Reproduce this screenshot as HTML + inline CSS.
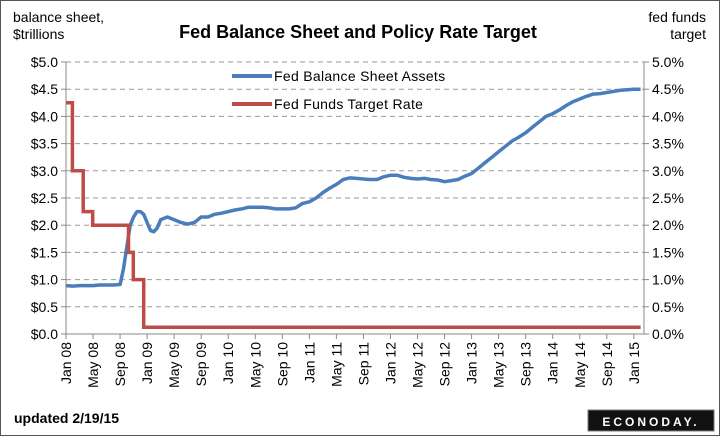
<!DOCTYPE html>
<html><head><meta charset="utf-8"><style>
body{margin:0;background:#fff;}
svg text{font-family:"Liberation Sans",Arial,sans-serif;}
</style></head><body>
<svg width="720" height="436" viewBox="0 0 720 436">
<rect x="0.5" y="0.5" width="719" height="435" fill="#fff" stroke="#555" stroke-width="1"/>
<text x="13" y="22" font-size="14">balance sheet,</text>
<text x="13" y="39" font-size="14">$trillions</text>
<text x="706" y="22" font-size="14" text-anchor="end">fed funds</text>
<text x="706" y="39" font-size="14" text-anchor="end">target</text>
<text x="358" y="38" font-size="18" font-weight="bold" text-anchor="middle">Fed Balance Sheet and Policy Rate Target</text>
<g id="grid"></g>
<g id="axes"></g>
<g id="series"></g>
<g>
<line x1="232" y1="76" x2="272" y2="76" stroke="#4a7ebb" stroke-width="4"/>
<text x="274" y="81" font-size="14" letter-spacing="0.3">Fed Balance Sheet Assets</text>
<line x1="232" y1="104" x2="272" y2="104" stroke="#be4b48" stroke-width="4"/>
<text x="274" y="109" font-size="14" letter-spacing="0.3">Fed Funds Target Rate</text>
</g>
<text x="14" y="423" font-size="14" font-weight="bold">updated 2/19/15</text>
<g>
<rect x="588" y="410" width="126" height="21" fill="#111" stroke="#777"/>
<text x="651" y="426" font-size="12" font-weight="bold" fill="#fff" text-anchor="middle" letter-spacing="3">ECONODAY.</text>
</g>
</svg>
<script>
const xLabels=["Jan 08","May 08","Sep 08","Jan 09","May 09","Sep 09","Jan 10","May 10","Sep 10","Jan 11","May 11","Sep 11","Jan 12","May 12","Sep 12","Jan 13","May 13","Sep 13","Jan 14","May 14","Sep 14","Jan 15"];
const leftTicks=["$0.0","$0.5","$1.0","$1.5","$2.0","$2.5","$3.0","$3.5","$4.0","$4.5","$5.0"];
const rightTicks=["0.0%","0.5%","1.0%","1.5%","2.0%","2.5%","3.0%","3.5%","4.0%","4.5%","5.0%"];
const assetMonths=[0,1,2,3,4,5,6,7,8,8.5,9,9.5,10,10.5,11,11.5,12,12.5,13,13.5,14,15,16,17,18,19,20,21,22,23,24,25,26,27,28,29,30,31,32,33,34,35,36,37,38,39,40,41,42,43,44,45,46,47,48,49,50,51,52,53,54,55,56,57,58,59,60,61,62,63,64,65,66,67,68,69,70,71,72,73,74,75,76,77,78,79,80,81,82,83,84,85];
const assetValues=[0.89,0.88,0.89,0.89,0.89,0.9,0.9,0.9,0.91,1.2,1.6,2.0,2.15,2.25,2.25,2.2,2.05,1.9,1.88,1.95,2.1,2.15,2.1,2.05,2.02,2.05,2.15,2.15,2.2,2.22,2.25,2.28,2.3,2.33,2.33,2.33,2.32,2.3,2.3,2.3,2.32,2.4,2.43,2.5,2.6,2.68,2.75,2.84,2.87,2.86,2.85,2.84,2.84,2.89,2.92,2.92,2.88,2.86,2.85,2.86,2.84,2.83,2.8,2.82,2.84,2.9,2.95,3.05,3.15,3.25,3.35,3.45,3.55,3.62,3.7,3.8,3.9,4.0,4.05,4.12,4.2,4.27,4.32,4.37,4.41,4.42,4.44,4.46,4.48,4.49,4.5,4.5];
const rateMonths=[0,0.95,2.55,3.95,9.25,9.95,11.5,85];
const rateValues=[4.25,3.0,2.25,2.0,1.5,1.0,0.125,0.125];
const X0=66,X1=644,PX=6.76,Y0=334,Y1=62;
const x=m=>X0+m*PX;
const yL=v=>Y0-(v/5)*(Y0-Y1);
const yR=v=>Y0-(v/5)*(Y0-Y1);
const NS="http://www.w3.org/2000/svg";
function mk(tag,attrs,parent,txt){const e=document.createElementNS(NS,tag);for(const k in attrs)e.setAttribute(k,attrs[k]);if(txt!==undefined)e.textContent=txt;parent.appendChild(e);return e;}
const grid=document.getElementById('grid'),axes=document.getElementById('axes'),series=document.getElementById('series');
leftTicks.forEach((t,i)=>{const yy=yL(i*0.5);
 if(i>0){const g=mk('line',{x1:X0,x2:X1,y1:yy,y2:yy,stroke:'#999','stroke-dasharray':'5,4','stroke-width':1},grid);
 
 }
 const tl=mk('line',{x1:X0-5,x2:X0,y1:yy,y2:yy,stroke:'#888'},axes);
 
 
 const tr=mk('line',{x1:X1,x2:X1+5,y1:yy,y2:yy,stroke:'#888'},axes);
 
 
 const a=mk('text',{x:58,y:yy+5,'font-size':14,'text-anchor':'end'},axes,t);
 
 
 const b=mk('text',{x:652,y:yy+5,'font-size':14},axes,rightTicks[i]);
 
 
});
const la=mk('line',{x1:X0,x2:X0,y1:Y1,y2:Y0,stroke:'#888'},axes);


const ra=mk('line',{x1:X1,x2:X1,y1:Y1,y2:Y0,stroke:'#888'},axes);


const xa=mk('line',{x1:X0,x2:X1,y1:Y0,y2:Y0,stroke:'#888'},axes);


xLabels.forEach((t,i)=>{const xx=x(i*4);
 const tk=mk('line',{x1:xx,x2:xx,y1:Y0,y2:Y0+5,stroke:'#888'},axes);
 
 
 const tx=mk('text',{x:0,y:0,'font-size':14,'text-anchor':'end',transform:`translate(${xx+5},${Y0+8}) rotate(-90)`},axes,t);
 
 
});
let d='';assetMonths.forEach((m,i)=>{d+=(i?'L':'M')+x(m).toFixed(1)+','+yL(assetValues[i]).toFixed(1);});
const ap=mk('path',{d:d,fill:'none',stroke:'#4a7ebb','stroke-width':3.5,'stroke-linejoin':'round'},series);


let r='';rateMonths.forEach((m,i)=>{if(i===0)r+='M'+x(m)+','+yR(rateValues[i]);else r+='L'+x(m).toFixed(1)+','+yR(rateValues[i-1]).toFixed(1)+'L'+x(m).toFixed(1)+','+yR(rateValues[i]).toFixed(1);});
const rp=mk('path',{d:r,fill:'none',stroke:'#be4b48','stroke-width':3.5},series);


</script>
</body></html>
